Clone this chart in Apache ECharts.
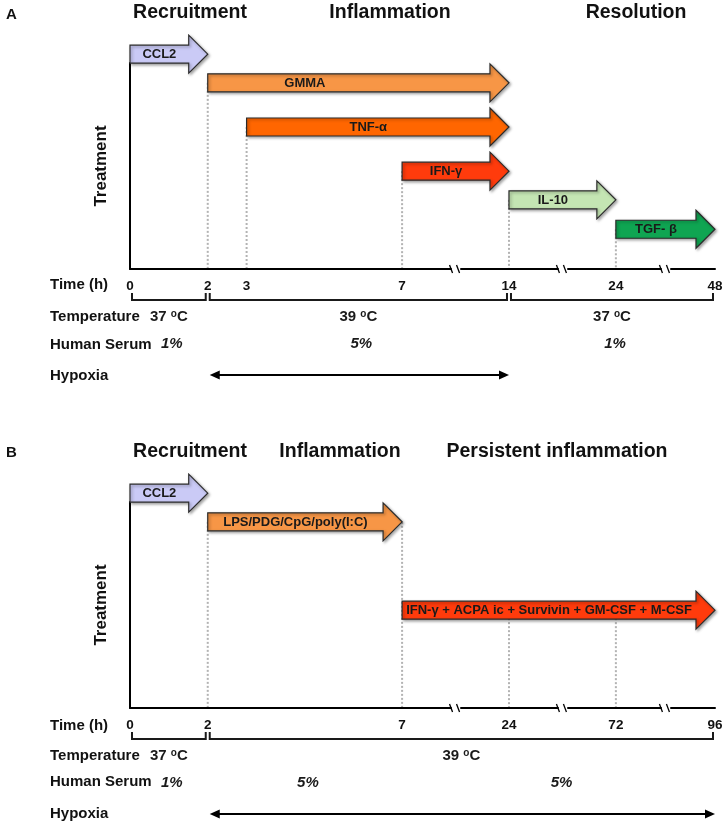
<!DOCTYPE html>
<html><head><meta charset="utf-8">
<script src="https://cdn.jsdelivr.net/npm/echarts@6/dist/echarts.min.js"></script>
<style>html,body{margin:0;padding:0;background:#fff}#c{width:726px;height:827px}</style>
</head><body><div id="c"></div>
<script>
// ================= DATA =================
// ---- Panel A ----
const ticksA = [0, 2, 3, 7, 14, 24, 48];
const breaksA = [[8.25, 12.75], [15.25, 22.75], [25.15, 46.85]];
const phasesA = ['Recruitment', 'Inflammation', 'Resolution'];
const arrowNamesA = ['CCL2', 'GMMA', 'TNF-α', 'IFN-γ', 'IL-10', 'TGF- β'];
const arrowStartA = [0, 2, 3, 7, 14, 24];
const arrowEndA = [2, 14, 14, 14, 24, 48];
const arrowLaneA = [14.6, 12.65, 9.65, 6.65, 4.7, 2.7];
const arrowLabelAtA = [null, 4.5, null, null, null, null];
const guidesA = [[2, 12.65], [3, 9.65], [7, 6.65], [14, 4.7], [24, 2.7]];
const tempSegA = [[0, 2], [2, 14], [14, 48]];
const tempValA = ['37', '39', '37'];
const serumSegA = [[0, 2], [2, 14], [14, 48]];
const serumValA = ['1%', '5%', '1%'];
const hypoxiaA = [[2, 14]];

// ---- Panel B ----
const ticksB = [0, 2, 7, 24, 72, 96];
const breaksB = [[8.25, 22.75], [25.25, 70.75], [73.15, 94.85]];
const phasesB = ['Recruitment', 'Inflammation', 'Persistent inflammation'];
const arrowNamesB = ['CCL2', 'LPS/PDG/CpG/poly(I:C)', 'IFN-γ + ACPA ic + Survivin + GM-CSF + M-CSF'];
const arrowStartB = [0, 2, 7];
const arrowEndB = [2, 7, 96];
const arrowLaneB = [14.6, 12.65, 6.65];
const arrowLabelAtB = [null, null, null];
const guidesB = [[2, 12.65], [7, 12.65], [24, 6.65], [72, 6.65]];
const tempSegB = [[0, 2], [2, 96]];
const tempValB = ['37', '39'];
const serumSegB = [[0, 2], [2, 7], [7, 96]];
const serumValB = ['1%', '5%', '5%'];
const hypoxiaB = [[2, 96]];

// ================= STYLE / LAYOUT =================
const FONT = '"Liberation Sans", Arial, Helvetica, sans-serif';
const ARROW_COLORS = {
  'CCL2': '#cacaf6', 'GMMA': '#f79646', 'TNF-α': '#ff6600', 'IFN-γ': '#ff3b0c',
  'IL-10': '#c4e5b3', 'TGF- β': '#0fa552', 'LPS/PDG/CpG/poly(I:C)': '#f79646',
  'IFN-γ + ACPA ic + Survivin + GM-CSF + M-CSF': '#ff3b0c'
};
const HEAD_L = 19, SHAFT_H = 9, HEAD_H = 19;
const OFF_BRACKET = 31, OFF_TEMP = 48, OFF_SERUM = 75, OFF_HYP = 106;
const BREAK_GAP = 0.25;

function xAxisFor(gi, ticks, breaks, max) {
  return {
    gridIndex: gi, type: 'value', min: 0, max: max,
    breaks: breaks.map(b => ({ start: b[0], end: b[1], gap: BREAK_GAP })),
    breakArea: { show: false },
    axisLine: { show: true, onZero: false, lineStyle: { color: '#000', width: 2 } },
    axisTick: { show: false }, splitLine: { show: false }, minorTick: { show: false },
    axisLabel: { show: true, customValues: ticks, margin: 10, color: '#111', fontSize: 13.5,
      fontWeight: 'bold', fontFamily: FONT, hideOverlap: false }
  };
}
function yAxisFor(gi) {
  return {
    gridIndex: gi, type: 'value', min: 0, max: 14,
    axisLine: { show: true, lineStyle: { color: '#000', width: 2 } },
    axisTick: { show: false }, axisLabel: { show: false }, splitLine: { show: false }
  };
}

function arrowSeries(gi, names, starts, ends, lanes, labelAt) {
  return {
    type: 'custom', xAxisIndex: gi, yAxisIndex: gi, clip: false, z: 5, silent: true,
    data: starts.map((s, i) => [s, ends[i], lanes[i]]),
    renderItem(params, api) {
      const i = params.dataIndex;
      const lane = api.value(2);
      const a = api.coord([api.value(0), lane]);
      const b = api.coord([api.value(1), lane]);
      const x0 = a[0], x1 = b[0], y = a[1], hx = x1 - HEAD_L;
      const pts = [[x0, y - SHAFT_H], [hx, y - SHAFT_H], [hx, y - HEAD_H], [x1, y],
                   [hx, y + HEAD_H], [hx, y + SHAFT_H], [x0, y + SHAFT_H]];
      const lx = labelAt[i] != null ? api.coord([labelAt[i], lane])[0] : (x0 + hx) / 2;
      return { type: 'group', children: [
        { type: 'polygon', shape: { points: pts },
          style: { fill: ARROW_COLORS[names[i]], stroke: '#2a2a2a', lineWidth: 1.2,
                   shadowBlur: 3, shadowOffsetX: 1.5, shadowOffsetY: 1.5, shadowColor: 'rgba(0,0,0,0.35)' } },
        { type: 'text', x: lx, y: y + 0.5,
          style: { text: names[i], align: 'center', verticalAlign: 'middle',
                   font: 'bold 13px ' + FONT, fill: '#1a1a1a' } }
      ] };
    }
  };
}

function guideSeries(gi, guides) {
  return {
    type: 'custom', xAxisIndex: gi, yAxisIndex: gi, clip: false, z: 2, silent: true,
    data: guides,
    renderItem(params, api) {
      const a = api.coord([api.value(0), api.value(1)]);
      const b = api.coord([api.value(0), 0]);
      return { type: 'line', shape: { x1: a[0], y1: a[1], x2: b[0], y2: b[1] - 1 },
        style: { stroke: '#b3b3b3', lineWidth: 2, lineDash: [2, 2] } };
    }
  };
}

function breakMarkSeries(gi, breaks) {
  return {
    type: 'custom', xAxisIndex: gi, yAxisIndex: gi, clip: false, z: 6, silent: true,
    data: breaks.map(b => [(b[0] + b[1]) / 2]),
    renderItem(params, api) {
      const p = api.coord([api.value(0), 0]);
      const x = p[0], y = p[1];
      return { type: 'group', children: [
        { type: 'rect', shape: { x: x - 3, y: y - 2, width: 5, height: 4 }, style: { fill: '#fff' } },
        { type: 'line', shape: { x1: x - 6, y1: y - 4, x2: x - 3, y2: y + 4 }, style: { stroke: '#000', lineWidth: 1.3 } },
        { type: 'line', shape: { x1: x + 1, y1: y - 4, x2: x + 4, y2: y + 4 }, style: { stroke: '#000', lineWidth: 1.3 } }
      ] };
    }
  };
}

function tempSeries(gi, segs, vals) {
  return {
    type: 'custom', xAxisIndex: gi, yAxisIndex: gi, clip: false, z: 4, silent: true,
    data: segs.map(s => [s[0], s[1]]),
    renderItem(params, api) {
      const a = api.coord([api.value(0), 0]);
      const b = api.coord([api.value(1), 0]);
      const yb = a[1] + OFF_BRACKET, x0 = a[0] + 2, x1 = b[0] - 2;
      return { type: 'group', children: [
        { type: 'polyline', shape: { points: [[x0, yb - 7], [x0, yb], [x1, yb], [x1, yb - 7]] },
          style: { stroke: '#1a1a1a', lineWidth: 2, fill: null } },
        { type: 'text', x: (a[0] + b[0]) / 2, y: a[1] + OFF_TEMP,
          style: { text: '{n|' + vals[params.dataIndex] + ' }{s|o}{n|C}', align: 'center', verticalAlign: 'middle',
            rich: {
              n: { fontSize: 15, fontWeight: 'bold', fontFamily: FONT, fill: '#1a1a1a', lineHeight: 16 },
              s: { fontSize: 10, fontWeight: 'bold', fontFamily: FONT, fill: '#1a1a1a', verticalAlign: 'top', lineHeight: 10 }
            } } }
      ] };
    }
  };
}

function serumSeries(gi, segs, vals) {
  return {
    type: 'custom', xAxisIndex: gi, yAxisIndex: gi, clip: false, z: 4, silent: true,
    data: segs.map(s => [s[0], s[1]]),
    renderItem(params, api) {
      const a = api.coord([api.value(0), 0]);
      const b = api.coord([api.value(1), 0]);
      return { type: 'text', x: (a[0] + b[0]) / 2 + 3, y: a[1] + OFF_SERUM,
        style: { text: vals[params.dataIndex], align: 'center', verticalAlign: 'middle',
                 font: 'italic bold 15px ' + FONT, fill: '#1a1a1a' } };
    }
  };
}

function hypoxiaSeries(gi, segs) {
  return {
    type: 'custom', xAxisIndex: gi, yAxisIndex: gi, clip: false, z: 4, silent: true,
    data: segs.map(s => [s[0], s[1]]),
    renderItem(params, api) {
      const a = api.coord([api.value(0), 0]);
      const b = api.coord([api.value(1), 0]);
      const y = a[1] + OFF_HYP, x0 = a[0] + 2, x1 = b[0];
      return { type: 'group', children: [
        { type: 'line', shape: { x1: x0 + 6, y1: y, x2: x1 - 6, y2: y }, style: { stroke: '#000', lineWidth: 2 } },
        { type: 'polygon', shape: { points: [[x0, y], [x0 + 10, y - 4.5], [x0 + 10, y + 4.5]] }, style: { fill: '#000' } },
        { type: 'polygon', shape: { points: [[x1, y], [x1 - 10, y - 4.5], [x1 - 10, y + 4.5]] }, style: { fill: '#000' } }
      ] };
    }
  };
}

function txt(x, y, text, font, opts) {
  return Object.assign({ type: 'text', x: x, y: y, silent: true,
    style: Object.assign({ text: text, font: font, fill: '#111',
      align: 'center', verticalAlign: 'middle', textAlign: 'center', textVerticalAlign: 'middle' }, (opts && opts.style) || {}) },
    (opts && opts.el) || {});
}
const TITLE = 'bold 19.5px ' + FONT;
const ROWF = 'bold 15px ' + FONT;
const leftStyle = { style: { align: 'left', textAlign: 'left' } };

const graphic = [
  txt(6, 15, 'A', 'bold 15px ' + FONT, leftStyle),
  txt(190, 13, phasesA[0], TITLE), txt(390, 13, phasesA[1], TITLE), txt(636, 13, phasesA[2], TITLE),
  txt(101, 166, 'Treatment', 'bold 17px ' + FONT, { el: { rotation: Math.PI / 2 } }),
  txt(50, 285, 'Time (h)', ROWF, leftStyle),
  txt(50, 317, 'Temperature', ROWF, leftStyle),
  txt(50, 345, 'Human Serum', ROWF, leftStyle),
  txt(50, 376, 'Hypoxia', ROWF, leftStyle),

  txt(6, 453, 'B', 'bold 15px ' + FONT, leftStyle),
  txt(190, 452, phasesB[0], TITLE), txt(340, 452, phasesB[1], TITLE), txt(557, 452, phasesB[2], TITLE),
  txt(101, 605, 'Treatment', 'bold 17px ' + FONT, { el: { rotation: Math.PI / 2 } }),
  txt(50, 726, 'Time (h)', ROWF, leftStyle),
  txt(50, 756, 'Temperature', ROWF, leftStyle),
  txt(50, 782, 'Human Serum', ROWF, leftStyle),
  txt(50, 814, 'Hypoxia', ROWF, leftStyle)
];

const chart = echarts.init(document.getElementById('c'), null, { renderer: 'canvas' });
chart.setOption({
  animation: false,
  backgroundColor: '#fff',
  grid: [
    { left: 130, width: 585, top: 63, height: 206, outerBoundsMode: 'none' },
    { left: 130, width: 585, top: 502, height: 206, outerBoundsMode: 'none' }
  ],
  xAxis: [xAxisFor(0, ticksA, breaksA, 48), xAxisFor(1, ticksB, breaksB, 96)],
  yAxis: [yAxisFor(0), yAxisFor(1)],
  graphic: graphic,
  series: [
    guideSeries(0, guidesA),
    arrowSeries(0, arrowNamesA, arrowStartA, arrowEndA, arrowLaneA, arrowLabelAtA),
    breakMarkSeries(0, breaksA),
    tempSeries(0, tempSegA, tempValA),
    serumSeries(0, serumSegA, serumValA),
    hypoxiaSeries(0, hypoxiaA),
    guideSeries(1, guidesB),
    arrowSeries(1, arrowNamesB, arrowStartB, arrowEndB, arrowLaneB, arrowLabelAtB),
    breakMarkSeries(1, breaksB),
    tempSeries(1, tempSegB, tempValB),
    serumSeries(1, serumSegB, serumValB),
    hypoxiaSeries(1, hypoxiaB)
  ]
});
</script>
</body></html>
